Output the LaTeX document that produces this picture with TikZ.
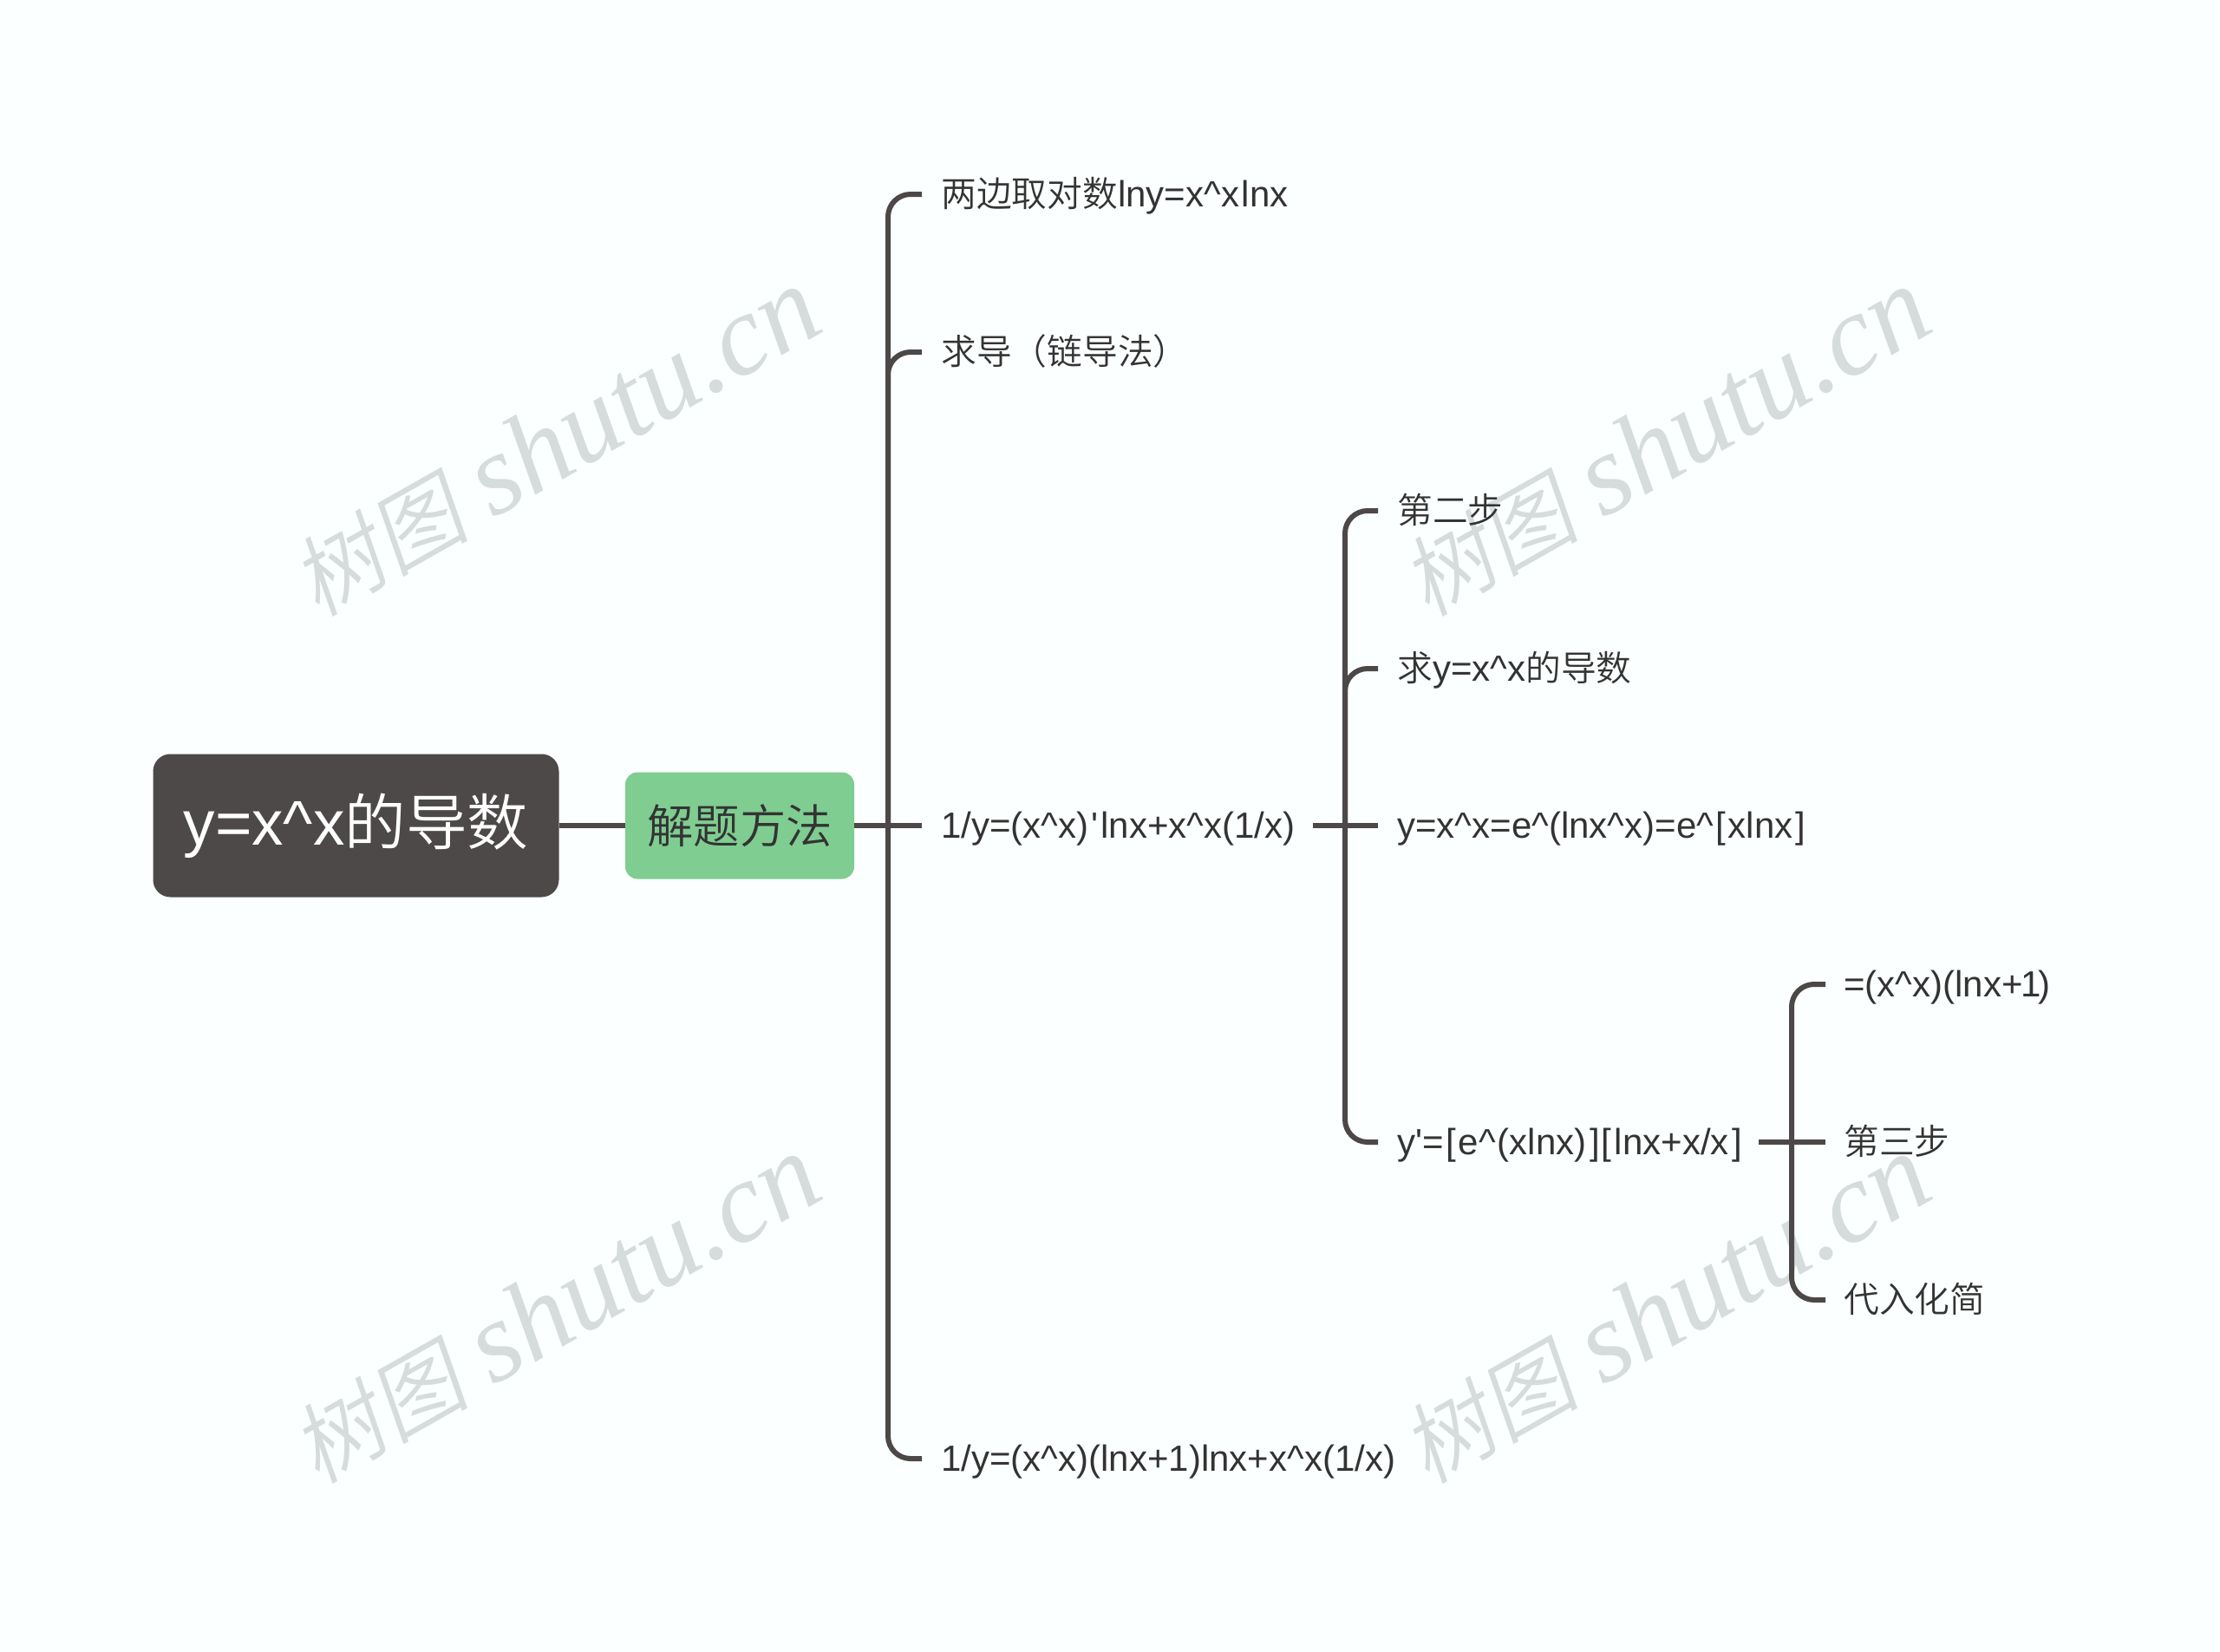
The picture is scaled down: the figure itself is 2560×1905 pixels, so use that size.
\documentclass[tikz,border=0pt]{standalone}
\usepackage{fontspec}
\setmainfont{Liberation Sans}
\newfontfamily\cjk[Scale=0.97]{Noto Sans CJK SC DemiLight}
\newfontfamily\wmzh[FakeSlant=0.18]{Noto Sans CJK SC DemiLight}
\newfontfamily\wmen{Liberation Serif}
\newcommand{\Z}[1]{{\cjk #1}}
\newcommand{\LB}{\kern1.4pt[\kern1.2pt}
\newcommand{\RB}{\kern1.2pt]\kern1.4pt}
\definecolor{bgc}{HTML}{FCFFFF}
\definecolor{linec}{HTML}{4D4848}
\definecolor{rootc}{HTML}{4D4949}
\definecolor{greenc}{HTML}{7FCD91}
\definecolor{textc}{HTML}{333333}
\definecolor{wmc}{HTML}{D6DCDC}
\tikzset{
  leaf/.style={anchor=west,inner ysep=0pt,inner xsep=0pt,text=textc,
    font=\fontsize{21pt}{24pt}\selectfont,text height=17.5pt,text depth=3.5pt},
  rootbox/.style={fill=rootc,rounded corners=10pt,minimum width=234pt,minimum height=82.5pt,
    inner sep=0pt,text=white,font=\fontsize{36.4pt}{40pt}\selectfont},
  topicbox/.style={fill=greenc,rounded corners=7pt,minimum width=132pt,minimum height=61.5pt,
    inner sep=0pt,text=textc,font=\fontsize{27.5pt}{30pt}\selectfont},
  conn/.style={draw=linec,line width=3pt},
  elbow/.style={conn,rounded corners=13pt},
  wm/.style={text=wmc,rotate=29.5,inner sep=0pt}
}
\newcommand{\WM}{{\fontsize{51pt}{60pt}\selectfont\wmzh 树图}\kern14pt{\fontsize{66pt}{70pt}\selectfont\wmen\itshape shutu.cn}}
\begin{document}
\begin{tikzpicture}[x=0.5pt,y=-0.5pt]
\fill[bgc] (0,0) rectangle (2560,1905);
\useasboundingbox (0,0) rectangle (2560,1905);
% watermarks
\node[wm] (w1) at (640,510) {\WM};
\node[wm] (w2) at (1920,510) {\WM};
\node[wm] (w3) at (640,1510) {\WM};
\node[wm] (w4) at (1920,1510) {\WM};
% boxes
\node[rootbox] (root) at (410.5,952) {\raisebox{-3.5pt}{y=x\textasciicircum x\Z{的导数}}};
\node[topicbox] (topic) at (853,952) {\Z{解题方法}};
% level 1
\coordinate (j1) at (1024,952);
\node[leaf] (a1) at (1063,224) {\hspace{11pt}\Z{两边取对数}lny=x\textasciicircum x\kern1.5pt lnx};
\node[leaf] (a2) at (1063,406) {\hspace{11pt}\Z{求导（链导法）}};
\node[leaf] (a3) at (1063,952) {\hspace{11pt}1/y=(x\textasciicircum x)\kern1.5pt\textquotesingle\kern1.5pt lnx+x\textasciicircum x(1/x)};
\node[leaf] (a4) at (1063,1682) {\hspace{11pt}1/y=(x\textasciicircum x)(lnx+1)lnx+x\textasciicircum x(1/x)};
% level 2
\coordinate (s2) at (1514,952);
\coordinate (j2) at (1551,952);
\node[leaf] (b1) at (1589,589) {\hspace{11pt}\Z{第二步}};
\node[leaf] (b2) at (1589,771) {\hspace{11pt}\Z{求}y=x\textasciicircum x\Z{的导数}};
\node[leaf] (b3) at (1589,952) {\hspace{11pt}y=x\textasciicircum x=e\textasciicircum(lnx\textasciicircum x)=e\textasciicircum\LB xlnx\RB};
\node[leaf] (b4) at (1589,1317) {\hspace{11pt}y\textquotesingle=\kern1.4pt[\kern1.2pt e\textasciicircum\kern1pt(xlnx)\kern2pt]\kern.5pt[\kern2pt lnx+x/x\kern2pt]};
% level 3
\coordinate (s3) at (2028,1317);
\coordinate (j3) at (2066,1317);
\node[leaf] (c1) at (2105,1135) {\hspace{10.5pt}=(x\textasciicircum x)(lnx+\kern-1pt 1\kern-2pt)};
\node[leaf] (c2) at (2105,1317) {\hspace{10.5pt}\Z{第三步}};
\node[leaf] (c3) at (2105,1499) {\hspace{10.5pt}\Z{代入化简}};
% connectors
\draw[conn] (root.east) -- (topic.west);
\draw[conn] (topic.east) -- (a3.west);
\draw[elbow] (j1) |- (a1.west);
\draw[elbow] (j1) |- (a2.west);
\draw[elbow] (j1) |- (a4.west);
\draw[conn] (s2) -- (b3.west);
\draw[elbow] (j2) |- (b1.west);
\draw[elbow] (j2) |- (b2.west);
\draw[elbow] (j2) |- (b4.west);
\draw[conn] (s3) -- (c2.west);
\draw[elbow] (j3) |- (c1.west);
\draw[elbow] (j3) |- (c3.west);
\end{tikzpicture}
\end{document}
